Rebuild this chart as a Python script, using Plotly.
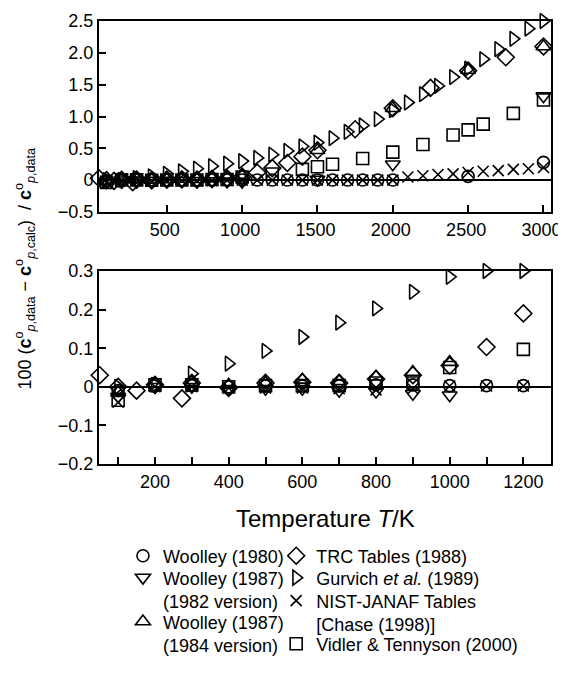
import plotly.graph_objects as go

# ---------------- data: top panel (full range) ----------------
T_woolley80_top = [100, 200, 300, 400, 500, 600, 700, 800, 900, 1000, 1100, 1200,
                   1300, 1400, 1500, 1600, 1700, 1800, 1900, 2000, 2500, 3000]
v_woolley80_top = [-0.01, 0.003, 0.003, 0.0, 0.002, 0.002, 0.002, 0.005, 0.005, 0.003, 0.003, 0.003,
                   0.003, 0.003, 0.003, 0.003, 0.003, 0.003, 0.003, 0.003, 0.06, 0.28]

T_woolley82_top = [100, 200, 300, 400, 500, 600, 700, 800, 900, 1000, 1500, 2000, 3000]
v_woolley82_top = [-0.025, 0.0, 0.0, -0.005, -0.005, -0.005, -0.01, -0.012, -0.018, -0.022, 0.01, 0.25, 1.32]

T_woolley84_top = [100, 200, 300, 400, 500, 600, 700, 800, 900, 1000, 1500, 2000, 2500, 3000]
v_woolley84_top = [-0.015, 0.008, 0.012, 0.005, 0.01, 0.018, 0.014, 0.026, 0.038, 0.064, 0.47, 1.13, 1.73, 2.1]

T_trc_top = [50, 100, 150, 200, 273.15, 300, 400, 500, 600, 700, 800, 900, 1000, 1100, 1200,
             1300, 1400, 1500, 1750, 2000, 2250, 2500, 2750, 3000]
v_trc_top = [0.03, 0.0, -0.01, 0.005, -0.03, 0.01, -0.003, 0.01, 0.012, 0.01, 0.02, 0.03, 0.055, 0.12, 0.19,
             0.27, 0.37, 0.47, 0.80, 1.13, 1.45, 1.72, 1.93, 2.1]

T_gurvich_top = [100, 200, 300, 400, 500, 600, 700, 800, 900, 1000, 1100, 1200, 1300, 1400, 1500,
                 1600, 1700, 1800, 1900, 2000, 2100, 2200, 2300, 2400, 2500, 2600, 2700, 2800, 2900, 3000]
v_gurvich_top = [0.0, 0.005, 0.034, 0.06, 0.1, 0.14, 0.18, 0.22, 0.26, 0.3, 0.35, 0.4, 0.46, 0.53, 0.59,
                 0.66, 0.76, 0.86, 0.96, 1.1, 1.22, 1.35, 1.48, 1.62, 1.75, 1.9, 2.06, 2.22, 2.38, 2.5]

T_nist_top = [100, 200, 300, 400, 500, 600, 700, 800, 900, 1000, 1100, 1200, 1300, 1400, 1500,
              1600, 1700, 1800, 1900, 2000, 2100, 2200, 2300, 2400, 2500, 2600, 2700, 2800, 2900, 3000]
v_nist_top = [-0.04, 0.0, 0.0, -0.003, -0.003, -0.003, -0.005, -0.008, -0.005, 0.002, 0.002, 0.002,
              0.002, 0.002, 0.002, 0.002, 0.002, 0.002, 0.002, 0.002,
              0.05, 0.07, 0.09, 0.10, 0.12, 0.14, 0.15, 0.17, 0.18, 0.20]

T_vidler_top = [100, 200, 300, 400, 500, 600, 700, 800, 900, 1000, 1200, 1400, 1500, 1600, 1800,
                2000, 2200, 2400, 2500, 2600, 2800, 3000]
v_vidler_top = [-0.035, 0.005, 0.005, 0.0, 0.003, 0.003, 0.003, 0.01, 0.01, 0.05, 0.097, 0.17, 0.21, 0.25, 0.34,
                0.44, 0.56, 0.71, 0.79, 0.88, 1.05, 1.26]

# ---------------- data: bottom panel (low-temperature detail) ----------------
T_woolley80_bot = [100, 200, 300, 400, 500, 600, 700, 800, 900, 1000, 1100, 1200]
v_woolley80_bot = [-0.01, 0.003, 0.003, 0.0, 0.002, 0.002, 0.002, 0.005, 0.005, 0.003, 0.003, 0.003]

T_woolley82_bot = [100, 200, 300, 400, 500, 600, 700, 800, 900, 1000]
v_woolley82_bot = [-0.025, 0.0, 0.0, -0.005, -0.005, -0.005, -0.01, -0.012, -0.018, -0.022]

T_woolley84_bot = [100, 200, 300, 400, 500, 600, 700, 800, 900, 1000]
v_woolley84_bot = [-0.015, 0.008, 0.012, 0.005, 0.01, 0.018, 0.014, 0.026, 0.038, 0.064]

T_trc_bot = [50, 100, 150, 200, 273.15, 300, 400, 500, 600, 700, 800, 900, 1000, 1100, 1200]
v_trc_bot = [0.03, 0.0, -0.01, 0.005, -0.03, 0.01, -0.003, 0.01, 0.012, 0.01, 0.02, 0.03, 0.055, 0.103, 0.19]

T_gurvich_bot = [100, 200, 300, 400, 500, 600, 700, 800, 900, 1000, 1100, 1200]
v_gurvich_bot = [0.0, 0.005, 0.034, 0.06, 0.093, 0.129, 0.166, 0.203, 0.246, 0.285, 0.30, 0.30]

T_nist_bot = [100, 200, 300, 400, 500, 600, 700, 800, 900, 1000, 1100, 1200]
v_nist_bot = [-0.04, 0.0, 0.0, -0.003, -0.003, -0.003, -0.005, -0.008, -0.005, 0.002, 0.002, 0.002]

T_vidler_bot = [100, 200, 300, 400, 500, 600, 700, 800, 900, 1000, 1200]
v_vidler_bot = [-0.035, 0.005, 0.005, 0.0, 0.003, 0.003, 0.003, 0.01, 0.01, 0.05, 0.097]

# ---------------- tick labels ----------------
top_x_ticks = [500, 1000, 1500, 2000, 2500, 3000]
top_y_ticks = [-0.5, 0, 0.5, 1.0, 1.5, 2.0, 2.5]
top_y_text = ["\u22120.5", "0", "0.5", "1.0", "1.5", "2.0", "2.5"]
bot_x_ticks = [200, 400, 600, 800, 1000, 1200]
bot_y_ticks = [-0.2, -0.1, 0, 0.1, 0.2, 0.3]
bot_y_text = ["\u22120.2", "\u22120.1", "0", "0.1", "0.2", "0.3"]

# name, symbol, size, top data, bottom data, legend position (paper x, paper y)
series = [
    ("Woolley (1980)", "circle-open", 12, T_woolley80_top, v_woolley80_top, T_woolley80_bot, v_woolley80_bot, (0.053, -0.2077)),
    ("Woolley (1987)<br>(1982 version)", "triangle-down-open", 13, T_woolley82_top, v_woolley82_top, T_woolley82_bot, v_woolley82_bot, (0.053, -0.2830)),
    ("Woolley (1987)<br>(1984 version)", "triangle-up-open", 13, T_woolley84_top, v_woolley84_top, T_woolley84_bot, v_woolley84_bot, (0.053, -0.3823)),
    ("TRC Tables (1988)", "diamond-open", 13, T_trc_top, v_trc_top, T_trc_bot, v_trc_bot, (0.392, -0.2077)),
    ("Gurvich <i>et al.</i> (1989)", "triangle-right-open", 13, T_gurvich_top, v_gurvich_top, T_gurvich_bot, v_gurvich_bot, (0.392, -0.2573)),
    ("NIST-JANAF Tables<br>[Chase (1998)]", "x-thin-open", 11, T_nist_top, v_nist_top, T_nist_bot, v_nist_bot, (0.392, -0.3350)),
    ("Vidler & Tennyson (2000)", "square-open", 12, T_vidler_top, v_vidler_top, T_vidler_bot, v_vidler_bot, (0.392, -0.4063)),
]

FONT = "Liberation Sans, Arial, Helvetica, sans-serif"

fig = go.Figure()
legends = {}
for i, (name, sym, size, tt, vt, tb, vb, (lx, ly)) in enumerate(series):
    leg = "legend" if i == 0 else f"legend{i + 1}"
    mk = dict(symbol=sym, size=size, color="black", line=dict(color="black", width=1.6))
    fig.add_trace(go.Scatter(x=tt, y=vt, mode="markers", marker=mk, name=name,
                             legendgroup=f"g{i}", showlegend=False, cliponaxis=False,
                             xaxis="x", yaxis="y"))
    fig.add_trace(go.Scatter(x=tb, y=vb, mode="markers", marker=mk, name=name,
                             legendgroup=f"g{i}", showlegend=True, legend=leg, cliponaxis=False,
                             xaxis="x2", yaxis="y2"))
    legends[leg] = dict(x=lx, xanchor="left", y=ly, yanchor="middle", valign="top",
                        font=dict(size=18, color="black", family=FONT),
                        bgcolor="rgba(0,0,0,0)", itemwidth=30)

axis_common = dict(showline=True, linecolor="black", linewidth=2, mirror=True,
                   ticks="inside", ticklen=7, tickwidth=1.5, tickcolor="black",
                   showgrid=False, tickfont=dict(size=18, color="black", family=FONT))

# the page body adds an 8 px margin, so the figure is 8 px smaller than the window
fig.update_layout(
    width=558, height=667,
    margin=dict(l=91, r=15, t=13, b=211, autoexpand=False),
    paper_bgcolor="white", plot_bgcolor="white",
    font=dict(family=FONT, color="black", size=18),
    xaxis=dict(domain=[0, 1], anchor="y", range=[50, 3050], tickvals=top_x_ticks,
               zeroline=False, ticklabelshift=-2, **axis_common),
    yaxis=dict(domain=[0.5688, 1], anchor="x", range=[-0.5, 2.5], tickvals=top_y_ticks,
               ticktext=top_y_text, zeroline=True, zerolinecolor="black", zerolinewidth=1.5,
               **axis_common),
    xaxis2=dict(domain=[0, 1], anchor="y2", range=[48, 1275], tickvals=bot_x_ticks,
                zeroline=False,
                minor=dict(ticks="inside", tickvals=[100, 300, 500, 700, 900, 1100],
                           ticklen=7, tickwidth=1.5, tickcolor="black"),
                **axis_common),
    yaxis2=dict(domain=[0, 0.4357], anchor="x2", range=[-0.2, 0.3], tickvals=bot_y_ticks,
                ticktext=bot_y_text, zeroline=True, zerolinecolor="black", zerolinewidth=1.5,
                **axis_common),
    annotations=[
        dict(text="Temperature <i>T</i>/K", x=0.5, y=-0.1219, xref="paper", yref="paper",
             xanchor="center", yanchor="middle", showarrow=False,
             font=dict(size=24, color="black", family=FONT)),
        dict(text="100 (<b>c</b><sup>o</sup><sub><i>p</i>,data</sub> \u2212 <b>c</b><sup>o</sup><sub><i>p</i>,calc</sub>)  / <b>c</b><sup>o</sup><sub><i>p</i>,data</sub>",
             x=-0.164, y=0.441, xref="paper", yref="paper", textangle=-90,
             xanchor="center", yanchor="middle", showarrow=False,
             font=dict(size=18, color="black", family=FONT)),
    ],
    **legends,
)

fig.write_html("out.html")
